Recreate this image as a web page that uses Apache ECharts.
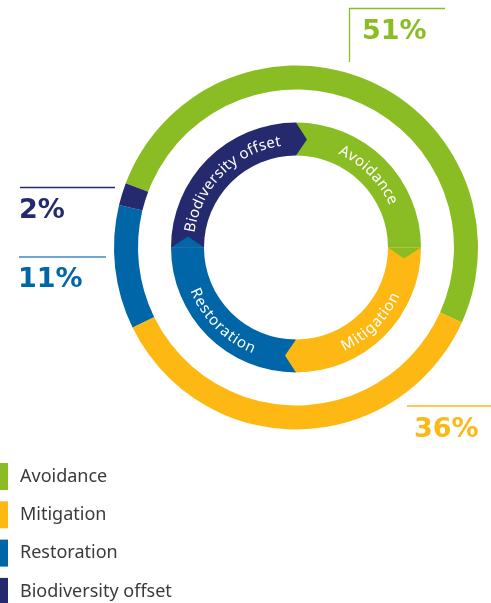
<!DOCTYPE html>
<html><head><meta charset="utf-8">
<script src="https://cdn.jsdelivr.net/npm/echarts@6/dist/echarts.min.js"></script>
<style>html,body{margin:0;padding:0;background:#fff}#c{width:491px;height:603px}</style>
</head><body><div id="c"></div>
<script>
// ---- data ----
const categories = ['Avoidance', 'Mitigation', 'Restoration', 'Biodiversity offset'];
const shareValues = [51, 36, 11, 2];          // outer ring, % share
const stageValues = [25, 25, 25, 25];         // inner cycle ring, equal stages
const colors = ['#8abd24', '#fdb813', '#0066a8', '#252a6f'];

// ---- layout ----
const CX = 296, CY = 247.5;
const OUTER = [158, 182];
const INNER = [92, 125];
const LABEL_R_TOP = 107, LABEL_R_BOTTOM = 110;
const LABEL_FONT = '15px "Noto Sans"';
const LABEL_SPACING = 0.6;

const measureCtx = document.createElement('canvas').getContext('2d');
measureCtx.font = LABEL_FONT;

const stageEnds = [];
const stageMids = [];
let acc = 0;
stageValues.forEach(v => { stageMids.push(acc + v / 2); acc += v; stageEnds.push(acc % 100); });

function renderArrow(params, api) {
  const a = api.value(0), i = api.value(1);
  const rMid = (INNER[0] + INNER[1]) / 2;
  const shift = 11 / (2 * Math.PI * rMid) * 100;
  const p1 = api.coord([INNER[1], a]).slice(0, 2);
  const p2 = api.coord([rMid, a + shift]).slice(0, 2);
  const p3 = api.coord([INNER[0], a]).slice(0, 2);
  return { type: 'polygon', shape: { points: [p1, p2, p3] }, style: { fill: colors[i] } };
}

function renderLabel(params, api) {
  const mid = api.value(0), i = api.value(1);
  const text = categories[i];
  const midDeg = mid / 100 * 360;
  const top = (midDeg < 90 || midDeg > 270);
  const r = top ? LABEL_R_TOP : LABEL_R_BOTTOM;
  const chars = [...text];
  const widths = chars.map(ch => measureCtx.measureText(ch).width);
  const total = widths.reduce((s, w) => s + w, 0) + LABEL_SPACING * (chars.length - 1);
  let pos = -total / 2;
  const children = chars.map((ch, k) => {
    const c = pos + widths[k] / 2;
    pos += widths[k] + LABEL_SPACING;
    const dDeg = c / r * 180 / Math.PI;
    const deg = top ? midDeg + dDeg : midDeg - dDeg;
    const p = api.coord([r, deg / 360 * 100]);
    const rot = top ? -deg * Math.PI / 180 : -(deg - 180) * Math.PI / 180;
    return { type: 'text', x: p[0], y: p[1], rotation: rot,
      style: { text: ch, fill: '#ffffff', font: LABEL_FONT, align: 'center', verticalAlign: 'middle' } };
  });
  return { type: 'group', children };
}

const pctFont = 'bold 27px "DejaVu Sans"';
function pctText(i, x, y) {
  return { type: 'text', x, y, style: { text: shareValues[i] + '%', font: pctFont, fill: colors[i], align: 'left', verticalAlign: 'middle' } };
}
function line(i, pts, color) {
  return { type: 'polyline', shape: { points: pts }, style: { stroke: color || colors[i], lineWidth: 1.3, fill: null } };
}

const hiddenAxis = { axisLine: { show: false }, splitLine: { show: false }, axisLabel: { show: false }, axisTick: { show: false } };

const chart = echarts.init(document.getElementById('c'));
chart.setOption({
  animation: false,
  polar: { center: [CX, CY], radius: OUTER[1] },
  radiusAxis: Object.assign({ type: 'value', min: 0, max: OUTER[1] }, hiddenAxis),
  angleAxis: Object.assign({ type: 'value', min: 0, max: 100, startAngle: 90, clockwise: true }, hiddenAxis),
  legend: {
    orient: 'vertical', left: 0, top: 463, height: 200, padding: 0, itemWidth: 8, itemHeight: 27, itemGap: 11.3,
    icon: 'rect', selectedMode: false, data: categories,
    textStyle: { fontSize: 18, color: '#3a3a3a', fontFamily: '"Noto Sans"', padding: [0, 0, 0, 7] }
  },
  series: [
    {
      type: 'pie', name: 'share', center: [CX, CY], radius: OUTER, startAngle: 159.3, clockwise: true,
      silent: true, label: { show: false }, labelLine: { show: false }, emphasis: { disabled: true },
      itemStyle: { borderWidth: 0 },
      data: categories.map((n, i) => ({ name: n, value: shareValues[i], itemStyle: { color: colors[i] } }))
    },
    {
      type: 'pie', name: 'stages', center: [CX, CY], radius: INNER, startAngle: 90, clockwise: true,
      silent: true, label: { show: false }, labelLine: { show: false }, emphasis: { disabled: true },
      itemStyle: { borderWidth: 0 },
      data: categories.map((n, i) => ({ name: n, value: stageValues[i], itemStyle: { color: colors[i] } }))
    },
    {
      type: 'custom', name: 'arrows', coordinateSystem: 'polar', silent: true, z: 5,
      data: stageEnds.map((e, i) => [e, i]), renderItem: renderArrow
    },
    {
      type: 'custom', name: 'labels', coordinateSystem: 'polar', silent: true, z: 6,
      data: stageMids.map((m, i) => [m, i]), renderItem: renderLabel
    }
  ],
  graphic: [
    line(0, [[349.5, 62], [349.5, 8.5], [445, 8.5]]),
    pctText(0, 362, 32),
    line(1, [[407, 406], [491, 406]]),
    pctText(1, 414, 430),
    line(3, [[20, 187.5], [115, 187.5]]),
    pctText(3, 19, 211),
    line(2, [[19, 257], [106, 257]], '#3f88c5'),
    pctText(2, 18, 280)
  ]
});
</script></body></html>
